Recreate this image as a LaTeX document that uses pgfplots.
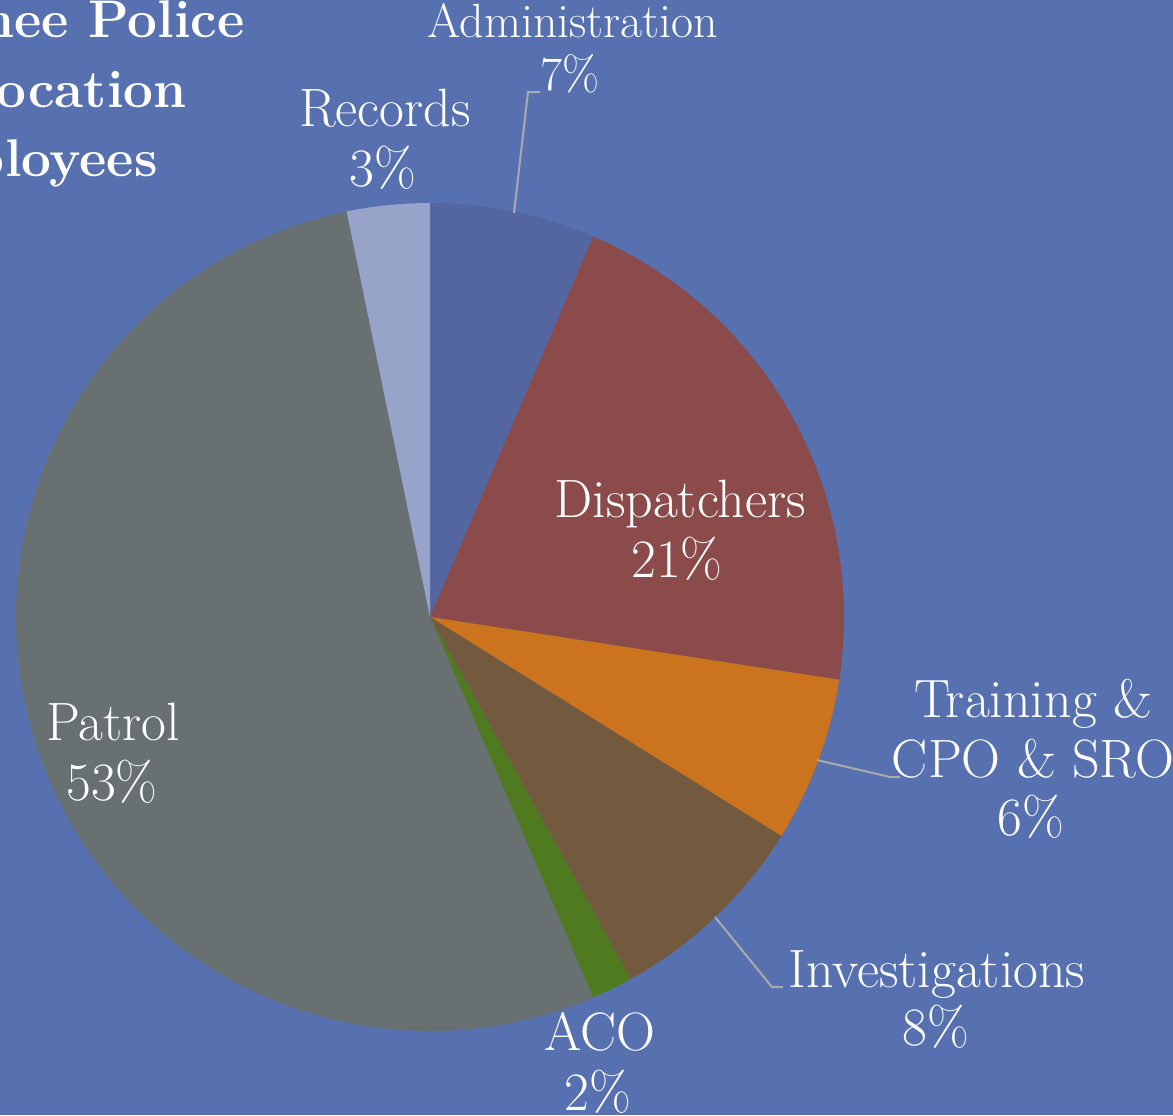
\documentclass[border=0pt]{standalone}
\usepackage{pgfplots}
\pgfplotsset{compat=1.18}
\definecolor{bg}{RGB}{86,112,176}
\definecolor{cAdm}{RGB}{84,102,160}
\definecolor{cDis}{RGB}{139,75,75}
\definecolor{cTra}{RGB}{204,115,30}
\definecolor{cInv}{RGB}{115,90,62}
\definecolor{cAco}{RGB}{79,122,31}
\definecolor{cPat}{RGB}{104,112,114}
\definecolor{cRec}{RGB}{151,163,200}
\definecolor{lead}{RGB}{170,170,170}
% employee counts per division
\def\nAdm{4}\def\nDis{13}\def\nTra{4}\def\nInv{5}\def\nAco{1}\def\nPat{33}\def\nRec{2}
\pgfmathsetmacro{\tot}{\nAdm+\nDis+\nTra+\nInv+\nAco+\nPat+\nRec}
\pgfmathsetmacro{\aA}{0}
\pgfmathsetmacro{\aB}{\aA+360*\nAdm/\tot}
\pgfmathsetmacro{\aC}{\aB+360*\nDis/\tot}
\pgfmathsetmacro{\aD}{\aC+360*\nTra/\tot}
\pgfmathsetmacro{\aE}{\aD+360*\nInv/\tot}
\pgfmathsetmacro{\aF}{\aE+360*\nAco/\tot}
\pgfmathsetmacro{\aG}{\aF+360*\nPat/\tot}
\pgfmathsetmacro{\aH}{\aG+360*\nRec/\tot}
\def\cx{430}\def\cy{617}\def\R{414}
\tikzset{lbl/.style={text=white, anchor=base, inner sep=0pt, font=\fontsize{27}{30}\selectfont},
  lbs/.style={text=white, anchor=base, inner sep=0pt, font=\fontsize{24}{30}\selectfont},
  ttl/.style={text=white, anchor=base east, inner sep=0pt, font=\bfseries\fontsize{26.5}{34.5}\selectfont}}
\begin{document}
\begin{tikzpicture}
\begin{axis}[scale only axis, width=586.5pt, height=557.5pt,
  xmin=0, xmax=1173, ymin=0, ymax=1115, y dir=reverse,
  hide axis, clip=false]
\fill[bg] (axis cs:0,0) rectangle (axis cs:1173,1115);
\coordinate (bl) at (axis cs:0,1115);
\coordinate (tr) at (axis cs:1173,0);
\addplot[fill=cAdm, draw=none, domain=\aA:\aB, samples=60] ({\cx+\R*sin(x)},{\cy-\R*cos(x)}) -- (axis cs:\cx,\cy) -- cycle;
\addplot[fill=cDis, draw=none, domain=\aB:\aC, samples=100] ({\cx+\R*sin(x)},{\cy-\R*cos(x)}) -- (axis cs:\cx,\cy) -- cycle;
\addplot[fill=cTra, draw=none, domain=\aC:\aD, samples=60] ({\cx+\R*sin(x)},{\cy-\R*cos(x)}) -- (axis cs:\cx,\cy) -- cycle;
\addplot[fill=cInv, draw=none, domain=\aD:\aE, samples=60] ({\cx+\R*sin(x)},{\cy-\R*cos(x)}) -- (axis cs:\cx,\cy) -- cycle;
\addplot[fill=cAco, draw=none, domain=\aE:\aF, samples=30] ({\cx+\R*sin(x)},{\cy-\R*cos(x)}) -- (axis cs:\cx,\cy) -- cycle;
\addplot[fill=cPat, draw=none, domain=\aF:\aG, samples=200] ({\cx+\R*sin(x)},{\cy-\R*cos(x)}) -- (axis cs:\cx,\cy) -- cycle;
\addplot[fill=cRec, draw=none, domain=\aG:\aH, samples=30] ({\cx+\R*sin(x)},{\cy-\R*cos(x)}) -- (axis cs:\cx,\cy) -- cycle;
% leader lines
\draw[lead, line width=1pt] (axis cs:514,213) -- (axis cs:528,92) -- (axis cs:540,92);
\draw[lead, line width=1pt] (axis cs:817,760) -- (axis cs:890,777) -- (axis cs:900,777);
\draw[lead, line width=1pt] (axis cs:715,917) -- (axis cs:772,987) -- (axis cs:783,987);
% labels
\node[lbs] at (axis cs:573,37) {Administration};
\node[lbs] at (axis cs:570,90) {7\%};
\node[lbl] at (axis cs:385,126) {Records};
\node[lbl] at (axis cs:383,186) {3\%};
\node[lbl] at (axis cs:680,517) {Dispatchers};
\node[lbl] at (axis cs:677,577) {21\%};
\node[lbl] at (axis cs:1033,717) {Training \&};
\node[lbl] at (axis cs:1033,777) {CPO \& SRO};
\node[lbl] at (axis cs:1031,835) {6\%};
\node[lbl] at (axis cs:937,987) {Investigations};
\node[lbl] at (axis cs:936,1045) {8\%};
\node[lbl] at (axis cs:600,1050) {ACO};
\node[lbl] at (axis cs:598,1110) {2\%};
\node[lbl] at (axis cs:113,740) {Patrol};
\node[lbl] at (axis cs:112,800) {53\%};
\node[ttl] at (axis cs:245,37) {Shawnee Police};
\node[ttl] at (axis cs:187,107) {Allocation};
\node[ttl] at (axis cs:158,176) {Employees};
\end{axis}
\pgfresetboundingbox
\useasboundingbox (bl) rectangle (tr);
\end{tikzpicture}
\end{document}
